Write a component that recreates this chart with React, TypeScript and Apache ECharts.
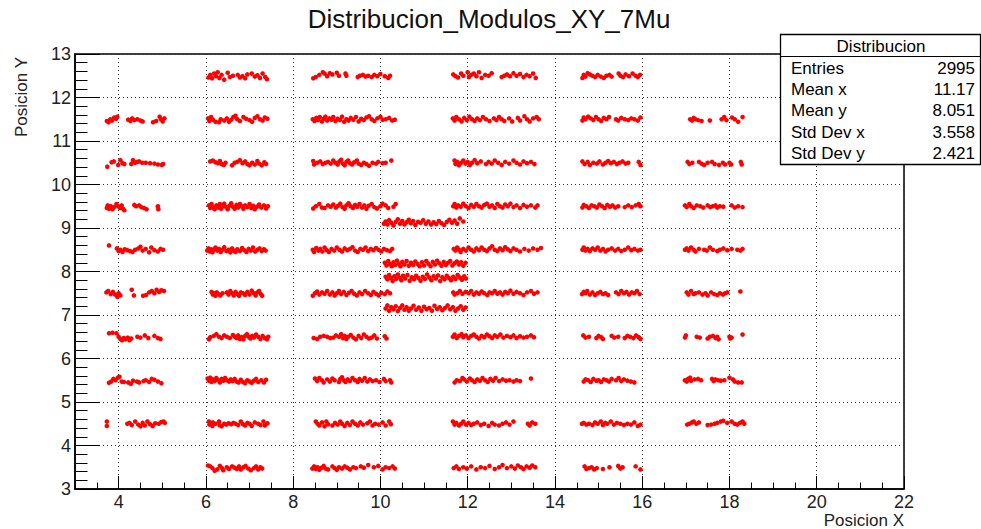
import React, { useEffect, useRef } from "react";
import * as echarts from "echarts";

const FONT = "'Liberation Sans', Arial, Helvetica, sans-serif";

const titleText = "Distribucion_Modulos_XY_7Mu";
const xAxisTitle = "Posicion X";
const yAxisTitle = "Posicion Y";
const xMajorTicks = [4, 6, 8, 10, 12, 14, 16, 18, 20, 22];
const statsTitle = "Distribucion";
const statsLabels = ["Entries", "Mean x", "Mean y", "Std Dev x", "Std Dev y"];
const statsValues = ["2995", "11.17", "8.051", "3.558", "2.421"];

// Column near x = 4..5
const colA = [
  [3.73,11.46],[3.77,11.43],[3.81,11.5],[3.85,11.47],[3.9,11.54],[3.94,11.51],[3.97,11.56],[4.22,11.49],[4.27,11.46],[4.31,11.52],[4.36,11.48],[4.43,11.5],[4.5,11.47],[4.55,11.45],[4.79,11.43],[4.86,11.46],[4.94,11.56],[4.97,11.5],[5.01,11.45],[5.05,11.52],
  [3.74,10.41],[3.84,10.51],[3.89,10.53],[3.99,10.45],[4.04,10.56],[4.09,10.49],[4.13,10.47],[4.29,10.47],[4.33,10.56],[4.38,10.5],[4.42,10.52],[4.47,10.53],[4.54,10.5],[4.62,10.5],[4.72,10.49],[4.82,10.48],[4.9,10.46],[4.99,10.45],[5.02,10.47],
  [3.73,9.46],[3.75,9.52],[3.78,9.44],[3.82,9.5],[3.86,9.43],[3.9,9.48],[3.95,9.55],[3.99,9.5],[4.03,9.46],[4.07,9.52],[4.1,9.44],[4.13,9.41],[4.36,9.53],[4.4,9.5],[4.47,9.52],[4.52,9.48],[4.58,9.46],[4.64,9.43],[4.9,9.5],[4.91,9.43],
  [3.78,8.6],[3.96,8.53],[4.0,8.47],[4.04,8.5],[4.09,8.45],[4.14,8.51],[4.2,8.49],[4.26,8.47],[4.32,8.45],[4.38,8.5],[4.45,8.53],[4.5,8.57],[4.55,8.48],[4.62,8.52],[4.7,8.44],[4.75,8.55],[4.82,8.49],[4.9,8.46],[4.96,8.52],[5.02,8.5],
  [3.72,7.52],[3.76,7.55],[3.82,7.48],[3.87,7.53],[3.92,7.47],[3.97,7.42],[4.0,7.5],[4.04,7.45],[4.3,7.58],[4.35,7.45],[4.56,7.44],[4.63,7.46],[4.7,7.52],[4.76,7.55],[4.82,7.5],[4.87,7.58],[4.93,7.53],[4.98,7.57],[5.04,7.55],
  [3.78,6.58],[3.86,6.59],[3.95,6.58],[4.0,6.5],[4.04,6.45],[4.08,6.42],[4.12,6.47],[4.16,6.44],[4.21,6.48],[4.25,6.42],[4.29,6.46],[4.43,6.5],[4.5,6.48],[4.6,6.53],[4.68,6.47],[4.82,6.52],[4.9,6.47],[4.96,6.45],
  [3.78,5.44],[3.83,5.47],[3.88,5.53],[3.93,5.5],[3.98,5.56],[4.02,5.58],[4.07,5.47],[4.12,5.46],[4.22,5.45],[4.28,5.42],[4.33,5.49],[4.42,5.47],[4.47,5.45],[4.57,5.48],[4.62,5.5],[4.7,5.46],[4.76,5.53],[4.82,5.51],[4.9,5.47],[4.98,5.43],
  [3.73,4.45],[3.73,4.55],[4.2,4.5],[4.25,4.52],[4.3,4.47],[4.38,4.55],[4.45,4.48],[4.5,4.44],[4.55,4.52],[4.6,4.46],[4.66,4.55],[4.72,4.49],[4.78,4.45],[4.84,4.51],[4.92,4.5],[4.98,4.54],[5.03,4.55],[5.06,4.52],
];

// Column near x = 6..7.4
const colB = [
  [6.06,12.46],[6.1,12.52],[6.14,12.44],[6.19,12.55],[6.23,12.49],[6.27,12.58],[6.31,12.45],[6.36,12.52],[6.42,12.41],[6.5,12.57],[6.55,12.47],[6.62,12.5],[6.73,12.52],[6.78,12.46],[6.84,12.49],[6.9,12.44],[6.95,12.53],[7.05,12.55],[7.12,12.48],[7.18,12.51],[7.24,12.45],[7.3,12.55],[7.36,12.47],[7.4,12.42],
  [6.05,11.52],[6.08,11.46],[6.12,11.55],[6.16,11.49],[6.22,11.44],[6.3,11.43],[6.34,11.5],[6.42,11.47],[6.48,11.52],[6.53,11.44],[6.58,11.49],[6.63,11.55],[6.68,11.58],[6.72,11.5],[6.78,11.46],[6.86,11.55],[6.92,11.51],[7.0,11.48],[7.06,11.44],[7.12,11.53],[7.18,11.57],[7.24,11.5],[7.3,11.47],[7.35,11.54],[7.41,11.51],
  [6.1,10.53],[6.16,10.55],[6.22,10.51],[6.28,10.49],[6.32,10.54],[6.36,10.47],[6.41,10.45],[6.45,10.5],[6.6,10.44],[6.66,10.5],[6.72,10.52],[6.78,10.56],[6.84,10.49],[6.9,10.53],[6.95,10.47],[7.0,10.44],[7.06,10.5],[7.12,10.46],[7.18,10.54],[7.22,10.48],[7.28,10.44],[7.34,10.51],[7.38,10.47],
  [6.07,9.52],[6.1,9.46],[6.13,9.55],[6.16,9.48],[6.2,9.43],[6.24,9.52],[6.28,9.47],[6.32,9.55],[6.35,9.44],[6.38,9.5],[6.42,9.56],[6.46,9.48],[6.5,9.43],[6.54,9.51],[6.58,9.57],[6.62,9.49],[6.66,9.44],[6.7,9.53],[6.74,9.47],[6.78,9.55],[6.82,9.5],[6.86,9.44],[6.9,9.52],[6.95,9.48],[7.0,9.55],[7.04,9.46],[7.08,9.51],[7.12,9.43],[7.17,9.49],[7.22,9.54],[7.27,9.47],[7.33,9.52],[7.38,9.45],[7.42,9.5],
  [6.03,8.48],[6.06,8.53],[6.09,8.46],[6.12,8.51],[6.15,8.44],[6.18,8.5],[6.22,8.55],[6.26,8.48],[6.3,8.52],[6.34,8.45],[6.38,8.5],[6.42,8.56],[6.47,8.47],[6.52,8.5],[6.56,8.44],[6.6,8.53],[6.64,8.48],[6.68,8.45],[6.72,8.51],[6.78,8.47],[6.83,8.54],[6.88,8.49],[6.93,8.45],[6.98,8.52],[7.03,8.48],[7.08,8.55],[7.13,8.46],[7.18,8.5],[7.23,8.53],[7.28,8.47],[7.33,8.51],[7.37,8.48],
  [6.13,7.53],[6.16,7.47],[6.19,7.5],[6.22,7.44],[6.25,7.52],[6.29,7.48],[6.33,7.45],[6.38,7.5],[6.48,7.52],[6.52,7.47],[6.56,7.55],[6.6,7.5],[6.64,7.45],[6.68,7.53],[6.72,7.48],[6.76,7.44],[6.8,7.52],[6.85,7.5],[6.9,7.46],[6.95,7.53],[7.0,7.47],[7.05,7.56],[7.1,7.5],[7.14,7.45],[7.18,7.52],[7.22,7.55],[7.26,7.48],[7.29,7.44],
  [6.07,6.44],[6.1,6.49],[6.18,6.52],[6.24,6.56],[6.3,6.5],[6.36,6.47],[6.42,6.53],[6.48,6.5],[6.55,6.47],[6.62,6.54],[6.66,6.5],[6.7,6.47],[6.74,6.53],[6.78,6.45],[6.82,6.49],[6.86,6.44],[6.9,6.52],[6.94,6.56],[6.98,6.5],[7.02,6.46],[7.06,6.52],[7.1,6.48],[7.15,6.55],[7.2,6.5],[7.25,6.45],[7.3,6.52],[7.35,6.47],[7.4,6.44],[7.43,6.5],
  [6.04,5.54],[6.07,5.49],[6.1,5.56],[6.13,5.46],[6.16,5.52],[6.2,5.48],[6.24,5.55],[6.28,5.5],[6.32,5.45],[6.36,5.53],[6.4,5.49],[6.44,5.55],[6.48,5.5],[6.53,5.47],[6.57,5.52],[6.61,5.48],[6.66,5.53],[6.7,5.47],[6.75,5.45],[6.8,5.51],[6.85,5.46],[6.9,5.43],[6.95,5.5],[7.0,5.47],[7.05,5.44],[7.1,5.49],[7.15,5.53],[7.2,5.46],[7.27,5.5],[7.33,5.45],[7.38,5.51],
  [6.07,4.55],[6.08,4.48],[6.15,4.45],[6.16,4.53],[6.22,4.5],[6.3,4.55],[6.31,4.47],[6.36,4.44],[6.42,4.5],[6.47,4.48],[6.52,4.51],[6.58,4.49],[6.63,4.52],[6.68,4.5],[6.74,4.47],[6.8,4.55],[6.85,4.49],[6.9,4.46],[6.95,4.52],[7.0,4.5],[7.05,4.45],[7.12,4.53],[7.2,4.5],[7.25,4.47],[7.32,4.55],[7.35,4.46],[7.41,4.51],
  [6.05,3.54],[6.1,3.52],[6.15,3.48],[6.2,3.42],[6.26,3.45],[6.32,3.53],[6.37,3.48],[6.4,3.43],[6.48,3.5],[6.53,3.46],[6.6,3.52],[6.66,3.49],[6.71,3.46],[6.76,3.52],[6.8,3.45],[6.86,3.5],[6.91,3.53],[6.97,3.47],[7.03,3.43],[7.1,3.48],[7.15,3.52],[7.2,3.45],[7.25,3.5],[7.29,3.47],
];

// Column near x = 8.5..10.3
const colC = [
  [8.46,12.44],[8.52,12.47],[8.6,12.52],[8.68,12.58],[8.72,12.55],[8.78,12.49],[8.84,12.56],[8.9,12.53],[9.0,12.57],[9.05,12.5],[9.2,12.55],[9.22,12.5],[9.48,12.47],[9.53,12.5],[9.6,12.52],[9.66,12.48],[9.72,12.5],[9.8,12.47],[9.86,12.52],[9.93,12.49],[10.0,12.54],[10.1,12.49],[10.18,12.45],[10.22,12.5],
  [8.45,11.5],[8.49,11.46],[8.53,11.53],[8.57,11.48],[8.61,11.55],[8.66,11.45],[8.7,11.51],[8.74,11.56],[8.78,11.47],[8.83,11.52],[8.88,11.49],[8.92,11.55],[8.97,11.46],[9.02,11.51],[9.07,11.48],[9.12,11.56],[9.17,11.44],[9.22,11.5],[9.27,11.47],[9.32,11.53],[9.38,11.49],[9.44,11.55],[9.5,11.45],[9.56,11.51],[9.62,11.48],[9.68,11.54],[9.74,11.57],[9.8,11.5],[9.86,11.46],[9.93,11.52],[10.0,11.56],[10.05,11.49],[10.12,11.5],[10.2,11.53],[10.27,11.47],[10.33,11.49],
  [8.46,10.54],[8.48,10.46],[8.55,10.5],[8.62,10.53],[8.68,10.47],[8.74,10.5],[8.8,10.52],[8.86,10.48],[8.92,10.55],[8.97,10.5],[9.02,10.46],[9.06,10.53],[9.1,10.57],[9.14,10.48],[9.18,10.44],[9.22,10.52],[9.26,10.55],[9.3,10.49],[9.35,10.46],[9.4,10.51],[9.46,10.55],[9.5,10.48],[9.56,10.45],[9.62,10.5],[9.68,10.47],[9.74,10.43],[9.82,10.5],[9.9,10.48],[9.95,10.52],[10.05,10.49],[10.12,10.5],[10.25,10.55],
  [8.46,9.45],[8.52,9.5],[8.6,9.55],[8.66,9.47],[8.72,9.46],[8.8,9.52],[8.86,9.49],[8.92,9.54],[8.98,9.47],[9.03,9.51],[9.08,9.56],[9.13,9.48],[9.18,9.44],[9.22,9.52],[9.27,9.57],[9.32,9.5],[9.37,9.46],[9.42,9.53],[9.47,9.49],[9.52,9.55],[9.58,9.47],[9.63,9.52],[9.68,9.44],[9.73,9.51],[9.8,9.55],[9.86,9.48],[9.92,9.45],[10.0,9.5],[10.05,9.56],[10.12,9.52],[10.18,9.46],[10.3,9.49],[10.35,9.55],
  [8.45,8.5],[8.48,8.45],[8.53,8.54],[8.58,8.48],[8.62,8.52],[8.67,8.46],[8.72,8.55],[8.77,8.49],[8.82,8.45],[8.88,8.52],[8.94,8.48],[9.0,8.55],[9.06,8.5],[9.12,8.46],[9.18,8.53],[9.24,8.49],[9.3,8.52],[9.36,8.56],[9.42,8.48],[9.48,8.45],[9.54,8.52],[9.6,8.5],[9.66,8.55],[9.72,8.47],[9.78,8.52],[9.84,8.49],[9.9,8.54],[9.96,8.5],[10.02,8.46],[10.08,8.52],[10.15,8.49],[10.22,8.47],[10.27,8.52],
  [8.45,7.44],[8.5,7.5],[8.55,7.54],[8.6,7.47],[8.66,7.52],[8.72,7.49],[8.78,7.55],[8.84,7.47],[8.9,7.52],[8.95,7.45],[9.0,7.5],[9.05,7.55],[9.1,7.48],[9.16,7.53],[9.22,7.46],[9.28,7.51],[9.34,7.55],[9.4,7.49],[9.46,7.45],[9.52,7.52],[9.58,7.48],[9.65,7.55],[9.72,7.5],[9.78,7.46],[9.84,7.53],[9.9,7.49],[9.96,7.45],[10.02,7.51],[10.1,7.48],[10.16,7.54],[10.22,7.5],
  [8.47,6.47],[8.55,6.45],[8.62,6.5],[8.7,6.52],[8.78,6.5],[8.85,6.47],[8.92,6.48],[8.98,6.53],[9.05,6.5],[9.1,6.56],[9.14,6.47],[9.18,6.52],[9.22,6.45],[9.26,6.5],[9.32,6.54],[9.38,6.48],[9.44,6.44],[9.5,6.52],[9.56,6.47],[9.62,6.55],[9.68,6.5],[9.74,6.46],[9.8,6.48],[9.86,6.53],[9.92,6.46],[10.1,6.51],[10.14,6.46],
  [8.5,5.54],[8.55,5.48],[8.6,5.55],[8.66,5.5],[8.7,5.45],[8.78,5.52],[8.84,5.47],[8.9,5.54],[8.95,5.5],[9.05,5.46],[9.08,5.53],[9.12,5.57],[9.16,5.5],[9.2,5.46],[9.25,5.52],[9.3,5.48],[9.36,5.55],[9.42,5.5],[9.48,5.46],[9.52,5.53],[9.58,5.49],[9.64,5.55],[9.7,5.47],[9.76,5.52],[9.82,5.48],[9.9,5.5],[9.98,5.46],[10.08,5.53],[10.12,5.48],[10.22,5.5],[10.25,5.45],
  [8.52,4.55],[8.56,4.5],[8.6,4.46],[8.66,4.53],[8.72,4.44],[8.76,4.55],[8.8,4.49],[8.9,4.46],[8.96,4.52],[9.02,4.48],[9.08,4.55],[9.12,4.5],[9.18,4.45],[9.24,4.52],[9.3,4.47],[9.36,4.55],[9.42,4.5],[9.48,4.46],[9.54,4.53],[9.6,4.48],[9.7,4.51],[9.76,4.55],[9.82,4.46],[9.88,4.5],[9.96,4.48],[10.05,4.53],[10.12,4.46],[10.2,4.55],[10.24,4.49],
  [8.44,3.47],[8.48,3.52],[8.52,3.46],[8.56,3.5],[8.6,3.44],[8.65,3.49],[8.7,3.53],[8.74,3.47],[8.8,3.45],[8.9,3.52],[8.95,3.48],[9.0,3.44],[9.05,3.5],[9.12,3.47],[9.18,3.52],[9.24,3.49],[9.3,3.45],[9.38,3.5],[9.44,3.48],[9.55,3.52],[9.62,3.49],[9.72,3.55],[9.85,3.5],[9.95,3.53],[10.05,3.45],[10.12,3.5],[10.2,3.48],[10.28,3.52],[10.33,3.47],
];

// Column near x = 11.7..13.6
const colD = [
  [11.67,12.53],[11.72,12.49],[11.78,12.46],[11.85,12.55],[11.9,12.5],[12.0,12.58],[12.03,12.47],[12.08,12.52],[12.14,12.55],[12.2,12.49],[12.26,12.58],[12.32,12.45],[12.4,12.52],[12.48,12.5],[12.55,12.56],[12.78,12.47],[12.84,12.5],[12.9,12.53],[12.97,12.49],[13.05,12.56],[13.12,12.5],[13.2,12.54],[13.28,12.47],[13.35,12.52],[13.42,12.49],[13.5,12.55],[13.56,12.45],
  [11.66,11.52],[11.7,11.47],[11.74,11.55],[11.8,11.5],[11.86,11.45],[11.92,11.53],[11.98,11.48],[12.04,11.56],[12.1,11.5],[12.16,11.46],[12.22,11.52],[12.28,11.48],[12.35,11.55],[12.42,11.5],[12.5,11.46],[12.6,11.52],[12.66,11.48],[12.72,11.55],[12.78,11.5],[12.84,11.46],[12.95,11.52],[13.02,11.45],[13.15,11.53],[13.2,11.47],[13.3,11.57],[13.36,11.5],[13.42,11.45],[13.5,11.52],[13.58,11.55],[13.63,11.5],
  [11.7,10.55],[11.72,10.47],[11.76,10.52],[11.8,10.44],[11.85,10.5],[11.9,10.55],[11.95,10.48],[12.0,10.52],[12.05,10.45],[12.1,10.5],[12.16,10.56],[12.22,10.49],[12.3,10.53],[12.42,10.47],[12.48,10.52],[12.55,10.48],[12.62,10.55],[12.7,10.5],[12.78,10.45],[12.86,10.52],[12.95,10.48],[13.05,10.55],[13.12,10.5],[13.2,10.46],[13.28,10.53],[13.36,10.49],[13.45,10.52],[13.53,10.47],
  [11.67,9.5],[11.7,9.55],[11.74,9.47],[11.78,9.52],[11.84,9.49],[11.9,9.56],[11.96,9.5],[12.02,9.46],[12.08,9.53],[12.14,9.49],[12.2,9.55],[12.26,9.5],[12.32,9.47],[12.38,9.53],[12.44,9.56],[12.5,9.49],[12.56,9.52],[12.62,9.46],[12.68,9.55],[12.74,9.5],[12.8,9.47],[12.86,9.54],[12.92,9.5],[12.98,9.56],[13.05,9.48],[13.12,9.52],[13.2,9.46],[13.28,9.53],[13.36,9.49],[13.45,9.52],[13.55,9.47],[13.6,9.52],
  [11.68,8.52],[11.72,8.48],[11.76,8.55],[11.8,8.5],[11.84,8.45],[11.9,8.52],[11.96,8.48],[12.02,8.55],[12.08,8.5],[12.14,8.46],[12.2,8.53],[12.26,8.49],[12.32,8.55],[12.38,8.5],[12.44,8.47],[12.5,8.53],[12.56,8.58],[12.62,8.5],[12.68,8.47],[12.74,8.53],[12.8,8.49],[12.86,8.56],[12.92,8.51],[12.98,8.47],[13.05,8.53],[13.12,8.5],[13.2,8.46],[13.3,8.52],[13.4,8.48],[13.5,8.53],[13.6,8.5],[13.68,8.54],
  [11.67,7.52],[11.7,7.47],[11.76,7.5],[11.82,7.55],[11.88,7.49],[11.95,7.53],[12.02,7.5],[12.08,7.55],[12.14,7.47],[12.2,7.52],[12.26,7.49],[12.32,7.54],[12.38,7.5],[12.45,7.46],[12.5,7.52],[12.56,7.5],[12.62,7.55],[12.68,7.49],[12.74,7.52],[12.8,7.47],[12.86,7.53],[12.92,7.5],[12.98,7.56],[13.05,7.49],[13.12,7.53],[13.2,7.5],[13.28,7.46],[13.36,7.52],[13.45,7.55],[13.52,7.49],[13.6,7.52],
  [11.66,6.5],[11.7,6.55],[11.75,6.47],[11.8,6.52],[11.86,6.56],[11.9,6.49],[11.96,6.53],[12.02,6.47],[12.08,6.52],[12.14,6.55],[12.2,6.5],[12.26,6.46],[12.32,6.52],[12.38,6.49],[12.44,6.55],[12.5,6.51],[12.56,6.47],[12.62,6.53],[12.68,6.5],[12.75,6.55],[12.82,6.48],[12.9,6.52],[12.98,6.49],[13.05,6.53],[13.12,6.47],[13.2,6.51],[13.28,6.48],[13.36,6.5],[13.45,6.53],[13.52,6.49],
  [11.7,5.45],[11.75,5.5],[11.82,5.48],[11.88,5.55],[11.92,5.52],[11.98,5.47],[12.05,5.54],[12.1,5.5],[12.16,5.46],[12.22,5.52],[12.28,5.49],[12.34,5.55],[12.4,5.5],[12.46,5.46],[12.52,5.53],[12.58,5.49],[12.64,5.55],[12.72,5.48],[12.8,5.52],[12.88,5.49],[12.96,5.5],[13.05,5.47],[13.12,5.5],[13.2,5.48],[13.45,5.54],
  [11.66,4.55],[11.7,4.48],[11.74,4.52],[11.8,4.46],[11.85,4.5],[11.9,4.55],[11.96,4.48],[12.02,4.52],[12.08,4.47],[12.14,4.5],[12.22,4.53],[12.3,4.47],[12.38,4.5],[12.48,4.45],[12.56,4.52],[12.62,4.48],[12.72,4.46],[12.8,4.5],[12.88,4.53],[12.96,4.48],[13.05,4.55],[13.38,4.5],[13.42,4.46],[13.48,4.53],[13.55,4.5],
  [11.68,3.48],[11.74,3.52],[11.8,3.46],[11.9,3.5],[11.98,3.47],[12.08,3.52],[12.2,3.45],[12.3,3.5],[12.4,3.48],[12.5,3.53],[12.62,3.46],[12.72,3.5],[12.8,3.55],[12.9,3.48],[13.0,3.52],[13.08,3.47],[13.15,3.54],[13.22,3.5],[13.28,3.46],[13.35,3.52],[13.42,3.49],[13.48,3.54],[13.55,3.5],
];

// Column near x = 14.6..16
const colE = [
  [14.63,12.45],[14.66,12.52],[14.7,12.48],[14.75,12.56],[14.8,12.53],[14.86,12.5],[14.92,12.47],[14.98,12.52],[15.05,12.48],[15.12,12.45],[15.18,12.5],[15.25,12.52],[15.3,12.48],[15.46,12.55],[15.5,12.5],[15.56,12.47],[15.62,12.53],[15.7,12.49],[15.78,12.55],[15.85,12.5],[15.9,12.47],[15.95,12.52],
  [14.63,11.47],[14.66,11.54],[14.7,11.5],[14.76,11.56],[14.82,11.52],[14.88,11.48],[14.94,11.55],[15.0,11.5],[15.06,11.46],[15.12,11.53],[15.18,11.5],[15.24,11.55],[15.4,11.5],[15.45,11.47],[15.52,11.53],[15.6,11.5],[15.68,11.48],[15.75,11.52],[15.82,11.5],[15.9,11.47],[15.96,11.54],
  [14.63,10.53],[14.68,10.47],[14.75,10.52],[14.8,10.45],[14.88,10.5],[14.96,10.48],[15.02,10.53],[15.1,10.46],[15.16,10.5],[15.22,10.54],[15.28,10.49],[15.35,10.52],[15.42,10.47],[15.48,10.5],[15.55,10.53],[15.62,10.48],[15.68,10.5],[15.92,10.52],[15.96,10.45],
  [14.63,9.47],[14.66,9.53],[14.72,9.5],[14.78,9.46],[14.84,9.52],[14.9,9.5],[14.96,9.47],[15.02,9.54],[15.08,9.5],[15.14,9.46],[15.2,9.53],[15.26,9.49],[15.32,9.52],[15.38,9.47],[15.45,9.5],[15.6,9.48],[15.68,9.52],[15.76,9.48],[15.85,9.52],[15.92,9.55],[15.96,9.5],
  [14.63,8.5],[14.66,8.55],[14.7,8.48],[14.75,8.52],[14.8,8.47],[14.86,8.53],[14.92,8.5],[14.98,8.55],[15.04,8.48],[15.1,8.52],[15.16,8.46],[15.22,8.5],[15.3,8.53],[15.38,8.48],[15.45,8.52],[15.52,8.47],[15.6,8.5],[15.68,8.55],[15.75,8.49],[15.82,8.52],[15.9,8.48],[15.96,8.5],
  [14.62,7.48],[14.66,7.53],[14.7,7.5],[14.74,7.55],[14.8,7.47],[14.86,7.52],[14.92,7.46],[14.98,7.5],[15.04,7.53],[15.1,7.48],[15.16,7.5],[15.22,7.46],[15.4,7.52],[15.46,7.48],[15.52,7.55],[15.58,7.5],[15.64,7.53],[15.7,7.47],[15.76,7.52],[15.82,7.5],[15.88,7.55],[15.94,7.48],
  [14.65,6.53],[14.7,6.48],[14.78,6.5],[14.95,6.47],[15.0,6.52],[15.06,6.49],[15.1,6.45],[15.3,6.52],[15.36,6.48],[15.45,6.5],[15.6,6.47],[15.66,6.52],[15.72,6.5],[15.8,6.47],[15.86,6.53],[15.92,6.49],[15.96,6.45],
  [14.66,5.47],[14.7,5.52],[14.76,5.5],[14.82,5.46],[14.88,5.53],[14.95,5.49],[15.0,5.5],[15.06,5.46],[15.12,5.52],[15.18,5.5],[15.24,5.47],[15.3,5.53],[15.4,5.5],[15.46,5.55],[15.52,5.48],[15.58,5.52],[15.66,5.49],[15.74,5.47],[15.82,5.45],
  [14.62,4.5],[14.66,4.52],[14.72,4.48],[14.78,4.5],[14.86,4.47],[14.92,4.53],[14.98,4.5],[15.05,4.55],[15.1,4.47],[15.15,4.52],[15.2,4.5],[15.28,4.55],[15.35,4.48],[15.42,4.52],[15.5,4.5],[15.58,4.47],[15.66,4.5],[15.74,4.48],[15.82,4.53],[15.9,4.45],[15.96,4.48],
  [14.68,3.52],[14.72,3.46],[14.78,3.48],[14.84,3.5],[14.9,3.45],[14.96,3.48],[15.1,3.46],[15.25,3.5],[15.45,3.53],[15.5,3.47],[15.55,3.5],[15.85,3.52],[15.96,3.45],
];

// Column near x = 17..18.4
const colF = [
  [17.1,11.5],[17.14,11.47],[17.18,11.53],[17.22,11.5],[17.28,11.48],[17.36,11.46],[17.55,11.47],[17.82,11.5],[17.88,11.55],[17.93,11.48],[18.06,11.54],[18.12,11.5],[18.2,11.44],[18.3,11.55],
  [17.04,10.52],[17.08,10.47],[17.15,10.5],[17.3,10.52],[17.36,10.48],[17.42,10.45],[17.5,10.5],[17.6,10.52],[17.66,10.47],[17.76,10.45],[17.85,10.5],[17.9,10.46],[18.0,10.5],[18.04,10.46],[18.26,10.52],[18.28,10.46],
  [16.98,9.52],[17.02,9.48],[17.08,9.55],[17.12,9.5],[17.18,9.46],[17.25,9.52],[17.33,9.5],[17.4,9.47],[17.5,9.52],[17.56,9.48],[17.62,9.5],[17.68,9.52],[17.72,9.47],[17.78,9.5],[17.86,9.49],[18.05,9.52],[18.12,9.47],[18.2,9.5],[18.3,9.48],
  [16.98,8.5],[17.02,8.53],[17.06,8.48],[17.12,8.55],[17.18,8.5],[17.22,8.46],[17.3,8.52],[17.42,8.5],[17.48,8.48],[17.55,8.55],[17.62,8.5],[17.72,8.47],[17.78,8.5],[17.86,8.53],[17.95,8.49],[18.05,8.52],[18.18,8.5],[18.25,8.48],[18.3,8.52],
  [17.02,7.52],[17.06,7.47],[17.12,7.55],[17.18,7.48],[17.22,7.5],[17.3,7.52],[17.38,7.47],[17.45,7.5],[17.5,7.45],[17.58,7.52],[17.65,7.48],[17.72,7.46],[17.78,7.5],[17.85,7.47],[17.9,7.5],[17.95,7.52],[18.25,7.54],
  [16.98,6.48],[17.0,6.53],[17.25,6.5],[17.32,6.48],[17.5,6.46],[17.55,6.5],[17.62,6.52],[17.68,6.47],[17.72,6.5],[17.75,6.44],[18.0,6.5],[18.02,6.46],[18.05,6.48],[18.3,6.55],
  [16.98,5.5],[17.02,5.47],[17.05,5.53],[17.1,5.56],[17.12,5.49],[17.2,5.52],[17.28,5.53],[17.35,5.5],[17.6,5.53],[17.64,5.48],[17.68,5.52],[17.74,5.5],[17.8,5.49],[17.88,5.5],[18.0,5.56],[18.08,5.52],[18.12,5.47],[18.2,5.45],[18.28,5.45],
  [17.03,4.48],[17.08,4.5],[17.14,4.53],[17.18,4.55],[17.24,4.5],[17.3,4.53],[17.5,4.47],[17.58,4.48],[17.66,4.5],[17.72,4.52],[17.8,4.55],[17.86,4.57],[17.95,4.52],[18.05,4.55],[18.12,4.5],[18.18,4.48],[18.24,4.52],[18.3,4.55],[18.34,4.5],
];

// Central module between x = 10 and 12
const colMid = [
  [10.08,9.1],[10.12,9.15],[10.16,9.08],[10.2,9.18],[10.25,9.12],[10.3,9.06],[10.35,9.14],[10.4,9.2],[10.45,9.1],[10.5,9.16],[10.55,9.08],[10.6,9.13],[10.65,9.19],[10.7,9.11],[10.75,9.16],[10.8,9.07],[10.86,9.14],[10.92,9.12],[10.98,9.18],[11.04,9.1],[11.1,9.15],[11.16,9.08],[11.22,9.13],[11.28,9.09],[11.34,9.16],[11.4,9.11],[11.46,9.07],[11.52,9.14],[11.58,9.19],[11.64,9.12],[11.7,9.17],[11.76,9.1],[11.82,9.22],[11.9,9.15],
  [10.1,8.2],[10.14,8.14],[10.18,8.24],[10.22,8.17],[10.26,8.12],[10.3,8.21],[10.34,8.15],[10.38,8.25],[10.42,8.18],[10.46,8.12],[10.5,8.22],[10.55,8.16],[10.6,8.24],[10.65,8.13],[10.7,8.2],[10.75,8.15],[10.8,8.23],[10.85,8.17],[10.9,8.12],[10.95,8.21],[11.0,8.14],[11.05,8.24],[11.1,8.18],[11.15,8.12],[11.2,8.22],[11.25,8.16],[11.3,8.25],[11.35,8.19],[11.4,8.13],[11.45,8.22],[11.5,8.15],[11.55,8.2],[11.6,8.24],[11.65,8.14],[11.7,8.19],[11.75,8.23],[11.8,8.16],[11.85,8.21],[11.9,8.13],[11.95,8.2],
  [10.12,7.88],[10.16,7.82],[10.2,7.92],[10.24,7.85],[10.28,7.78],[10.32,7.89],[10.36,7.83],[10.4,7.93],[10.44,7.86],[10.48,7.8],[10.52,7.9],[10.57,7.84],[10.62,7.92],[10.67,7.79],[10.72,7.87],[10.77,7.82],[10.82,7.9],[10.87,7.85],[10.92,7.79],[10.97,7.88],[11.02,7.83],[11.07,7.93],[11.12,7.86],[11.17,7.8],[11.22,7.89],[11.27,7.84],[11.32,7.91],[11.37,7.78],[11.42,7.87],[11.47,7.82],[11.52,7.9],[11.57,7.85],[11.62,7.8],[11.67,7.88],[11.72,7.83],[11.77,7.92],[11.82,7.86],[11.87,7.81],[11.92,7.89],[11.96,7.84],
  [10.12,7.15],[10.16,7.22],[10.2,7.1],[10.25,7.18],[10.3,7.13],[10.35,7.2],[10.4,7.09],[10.45,7.16],[10.5,7.22],[10.55,7.12],[10.6,7.18],[10.65,7.1],[10.7,7.15],[10.76,7.21],[10.82,7.12],[10.88,7.17],[10.94,7.1],[11.0,7.19],[11.06,7.13],[11.12,7.16],[11.18,7.1],[11.24,7.21],[11.3,7.14],[11.36,7.18],[11.42,7.11],[11.48,7.16],[11.54,7.22],[11.6,7.13],[11.66,7.18],[11.72,7.1],[11.78,7.15],[11.84,7.2],[11.9,7.12],[11.95,7.17],
];

const allPoints = [...colA, ...colB, ...colC, ...colD, ...colE, ...colF, ...colMid];

const gridLine = { color: "#333", type: [1, 3] as number[], width: 1 };
const tickLine = { color: "#000", width: 1 };

function buildOption() {
  const statsRowsY = [68, 89.5, 110.5, 132, 153.5];
  const statsGraphics: any[] = [
    {
      type: "rect",
      z: 100,
      shape: { x: 780.5, y: 34.5, width: 200, height: 130 },
      style: { fill: "#fff", stroke: "#000", lineWidth: 1.3 },
    },
    {
      type: "line",
      z: 101,
      shape: { x1: 780.5, y1: 56.5, x2: 980.5, y2: 56.5 },
      style: { stroke: "#000", lineWidth: 1 },
    },
    {
      type: "text",
      z: 102,
      x: 881,
      y: 46,
      style: {
        text: statsTitle, fontSize: 17, fontFamily: FONT, fill: "#000",
        align: "center", verticalAlign: "middle", textAlign: "center", textVerticalAlign: "middle",
      },
    },
  ];
  statsLabels.forEach((lab, i) => {
    statsGraphics.push({
      type: "text", z: 102, x: 791, y: statsRowsY[i],
      style: { text: lab, fontSize: 17, fontFamily: FONT, fill: "#000", align: "left", verticalAlign: "middle", textAlign: "left", textVerticalAlign: "middle" },
    });
    statsGraphics.push({
      type: "text", z: 102, x: 975, y: statsRowsY[i],
      style: { text: statsValues[i], fontSize: 17, fontFamily: FONT, fill: "#000", align: "right", verticalAlign: "middle", textAlign: "right", textVerticalAlign: "middle" },
    });
  });

  return {
    animation: false,
    textStyle: { fontFamily: FONT },
    grid: {
      left: 75, top: 54, width: 829, height: 435,
      show: true, borderColor: "#000", borderWidth: 1.5, backgroundColor: "transparent",
      containLabel: false, outerBoundsMode: "none",
    },
    xAxis: [
      {
        type: "value", min: 3, max: 22, position: "bottom", splitNumber: 10,
        axisLine: { show: true, onZero: false, lineStyle: { color: "#000", width: 1.5 } },
        axisTick: { show: true, inside: true, length: 13, customValues: xMajorTicks, lineStyle: tickLine },
        axisLabel: { show: true, customValues: xMajorTicks, margin: 4, fontSize: 18, color: "#222", fontFamily: FONT, showMinLabel: true, showMaxLabel: true },
        splitLine: { show: true, lineStyle: gridLine },
      },
      {
        type: "value", min: 3, max: 22, interval: 0.5, position: "bottom",
        axisLine: { show: false, onZero: false },
        axisTick: { show: true, inside: true, length: 6.5, lineStyle: tickLine },
        axisLabel: { show: false },
        splitLine: { show: false },
      },
    ],
    yAxis: {
      type: "value", min: 3, max: 13, interval: 1,
      axisLine: { show: true, onZero: false, lineStyle: { color: "#000", width: 1.5 } },
      axisTick: { show: true, inside: true, length: 25, lineStyle: tickLine },
      minorTick: { show: true, splitNumber: 5, length: 12.5, lineStyle: tickLine },
      axisLabel: { show: true, margin: 4, fontSize: 18, color: "#222", fontFamily: FONT },
      splitLine: { show: true, lineStyle: gridLine },
    },
    series: [
      {
        type: "scatter",
        xAxisIndex: 0,
        yAxisIndex: 0,
        data: allPoints,
        symbol: "circle",
        symbolSize: 4.6,
        silent: true,
        itemStyle: { color: "#ff0000", opacity: 1 },
      },
    ],
    graphic: [
      {
        type: "text", x: 489, y: 19,
        style: { text: titleText, fontSize: 26, fontFamily: FONT, fill: "#111", align: "center", verticalAlign: "middle", textAlign: "center", textVerticalAlign: "middle" },
      },
      {
        type: "text", x: 21, y: 57, rotation: Math.PI / 2,
        style: { text: yAxisTitle, fontSize: 17, fontFamily: FONT, fill: "#222", align: "right", verticalAlign: "middle", textAlign: "right", textVerticalAlign: "middle" },
      },
      {
        type: "text", x: 904, y: 520,
        style: { text: xAxisTitle, fontSize: 17, fontFamily: FONT, fill: "#222", align: "right", verticalAlign: "middle", textAlign: "right", textVerticalAlign: "middle" },
      },
      ...statsGraphics,
    ],
  };
}

export default function App() {
  const ref = useRef<HTMLDivElement>(null);
  useEffect(() => {
    if (!ref.current) return;
    const chart = echarts.init(ref.current, null, { renderer: "svg" });
    chart.setOption(buildOption() as any);
    return () => chart.dispose();
  }, []);
  return (
    <div
      ref={ref}
      style={{ position: "absolute", left: 0, top: 0, width: 981, height: 529, background: "#fff" }}
    />
  );
}
